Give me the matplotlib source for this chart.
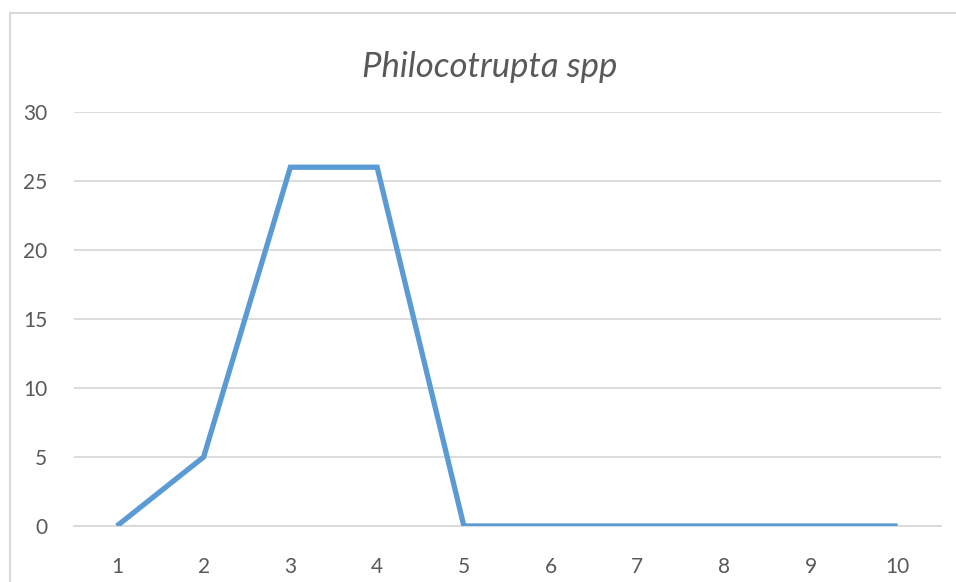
import matplotlib.pyplot as plt
from matplotlib.patches import Rectangle

# Chart data
categories = ["1", "2", "3", "4", "5", "6", "7", "8", "9", "10"]
counts = [0, 5, 26, 26, 0, 0, 0, 0, 0, 0]
y_ticks = [0, 5, 10, 15, 20, 25, 30]

plt.rcParams['font.family'] = ['Lato', 'DejaVu Sans']

W, H = 956, 582
fig = plt.figure(figsize=(W / 100, H / 100), dpi=100)

# outer chart border (light gray, open at right/bottom like the crop)
fig.patches.append(Rectangle((9.5 / W, -0.05), 1.2, 1 - 12.5 / H + 0.05,
                             transform=fig.transFigure, fill=False,
                             edgecolor='#d9d9d9', linewidth=1.5))

ax = fig.add_axes([73.5 / W, 1 - 526 / H, (941 - 73.5) / W, (526 - 112) / H])
x = list(range(len(categories)))
ax.plot(x, counts, color='#5b9bd5', linewidth=3.8, solid_capstyle='butt',
        solid_joinstyle='miter', zorder=3)

ax.set_xlim(-0.5, len(categories) - 0.5)
ax.set_ylim(0, 30)
ax.set_yticks(y_ticks)
ax.set_xticks(x)
ax.set_xticklabels(categories)
ax.grid(axis='y', color='#d9d9d9', linewidth=1.3)
ax.set_axisbelow(True)
for s in ['top', 'right', 'left']:
    ax.spines[s].set_visible(False)
ax.spines['bottom'].set_color('#d9d9d9')
ax.spines['bottom'].set_linewidth(1.3)
ax.tick_params(axis='both', length=0, labelsize=15, labelcolor='#595959')
ax.tick_params(axis='y', pad=19)
ax.tick_params(axis='x', pad=22)

fig.text(490 / W, 1 - 67 / H, "Philocotrupta spp", fontsize=25, style='italic',
         color='#595959', ha='center', va='center')

fig.savefig("out.png", dpi=100)
